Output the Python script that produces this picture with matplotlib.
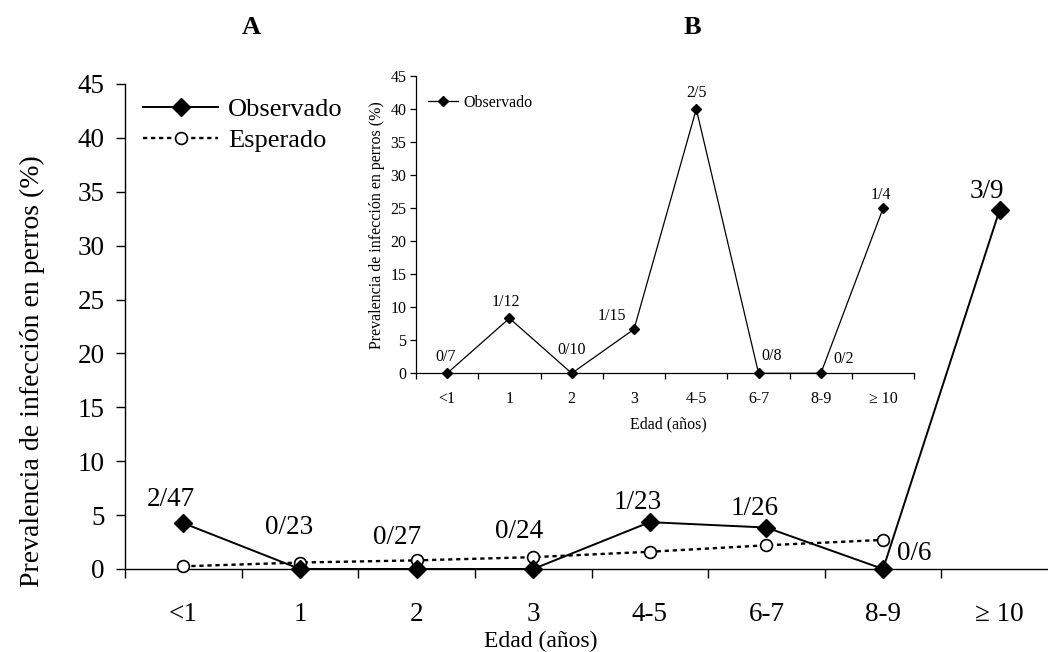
import matplotlib
matplotlib.use("Agg")
import matplotlib.pyplot as plt
from matplotlib.lines import Line2D

plt.rcParams['font.family'] = ['Liberation Serif', 'DejaVu Serif']

# ---- data ----
categories = ['<1', '1', '2', '3', '4-5', '6-7', '8-9', '\u2265 10']

# panel A: positives / examined per age group, and expected prevalence (%)
main_pos = [2, 0, 0, 0, 1, 1, 0, 3]
main_n = [47, 23, 27, 24, 23, 26, 6, 9]
expected = [0.25, 0.6, 0.8, 1.1, 1.6, 2.2, 2.7]

# panel B: positives / examined per age group
inset_pos = [0, 1, 0, 1, 2, 0, 0, 1]
inset_n = [7, 12, 10, 15, 5, 8, 2, 4]

main_obs = [100.0 * p / n for p, n in zip(main_pos, main_n)]
inset_obs = [100.0 * p / n for p, n in zip(inset_pos, inset_n)]

# label offsets (pixels, x right / y up) for the fraction annotations
main_offsets = [(-13, 24), (-11, 41), (-20, 31), (-14, 37),
                (-12, 20), (-12, 19), (31, 16), (-13, 18)]
inset_offsets = [(-2, 16), (-4, 16), (0, 23), (-22, 13),
                 (0, 16), (13, 17), (23, 14), (-2, 13)]

W, H = 1048, 652
fig = plt.figure(figsize=(W / 100, H / 100), dpi=100)


def px_axes(x0, y0, x1, y1):
    """Axes rectangle from pixel corners (top-left origin)."""
    return [x0 / W, 1 - y1 / H, (x1 - x0) / W, (y1 - y0) / H]


def style_axes(a, n, tick_len, ylab_size, xlab_size, tick_w=1.0):
    a.set_xlim(-0.5, n - 0.5)
    a.set_ylim(0, 45)
    a.set_yticks(range(0, 46, 5))
    a.set_xticks(range(n))
    a.set_xticks([i - 0.5 for i in range(n + 1)], minor=True)
    a.set_xticklabels(categories)
    a.tick_params(axis='x', which='major', length=0, labelsize=xlab_size)
    a.tick_params(axis='x', which='minor', length=tick_len, width=tick_w,
                  direction='out')
    a.tick_params(axis='y', length=tick_len, width=tick_w, direction='out',
                  labelsize=ylab_size)
    for s in ('top', 'right'):
        a.spines[s].set_visible(False)
    for s in ('left', 'bottom'):
        a.spines[s].set_linewidth(tick_w)
    a.patch.set_alpha(0)


# ---- panel A (main chart) ----
ax = fig.add_axes(px_axes(125, 84, 1058, 569))
style_axes(ax, len(categories), 6.5, 19.5, 19.5)
ax.tick_params(axis='x', which='major', pad=24)
ax.tick_params(axis='y', pad=8)

x_all = list(range(len(categories)))
exp_style = dict(color='black', lw=1.7, linestyle=(0, (1.8, 1.6)),
                 marker='o', ms=8.5, mfc='white', mec='black', mew=1.2)
obs_style = dict(color='black', lw=1.4, marker='D', ms=9, mfc='black',
                 mec='black')
ax.plot(range(len(expected)), expected, zorder=3, clip_on=False, **exp_style)
ax.plot(x_all, main_obs, zorder=4, clip_on=False, **obs_style)

for i, (p, n) in enumerate(zip(main_pos, main_n)):
    ax.annotate(f'{p}/{n}', xy=(i, main_obs[i]), xytext=main_offsets[i],
                textcoords='offset pixels', ha='center', va='center',
                fontsize=19.5, zorder=5)

leg_handles = [Line2D([], [], **obs_style), Line2D([], [], **exp_style)]
ax.legend(leg_handles, ['Observado', 'Esperado'], loc='upper left',
          bbox_to_anchor=(143 / W, 1 - 98 / H), bbox_transform=fig.transFigure,
          frameon=False, fontsize=19, borderpad=0, borderaxespad=0,
          handlelength=2.85, handletextpad=0.38, labelspacing=0.28)

fig.text(32 / W, 1 - 371 / H, 'Prevalencia de infección en perros (%)',
         rotation=90, ha='center', va='center', fontsize=20)
fig.text(541 / W, 1 - 641 / H, 'Edad (años)', ha='center', va='center',
         fontsize=17)

# ---- panel B (inset) ----
axi = fig.add_axes(px_axes(416, 76, 914.3, 373.3))
style_axes(axi, len(categories), 4.5, 11.5, 11.5, tick_w=0.9)
axi.tick_params(axis='x', which='major', pad=13)
axi.tick_params(axis='y', pad=2.5)
inset_style = dict(color='black', lw=0.9, marker='D', ms=4.8, mfc='black',
                   mec='black')
axi.plot(x_all, inset_obs, zorder=4, clip_on=False, **inset_style)
for i, (p, n) in enumerate(zip(inset_pos, inset_n)):
    axi.annotate(f'{p}/{n}', xy=(i, inset_obs[i]), xytext=inset_offsets[i],
                 textcoords='offset pixels', ha='center', va='center',
                 fontsize=11.5, zorder=5)
axi.legend([Line2D([], [], **inset_style)], ['Observado'], loc='upper left',
           bbox_to_anchor=(428 / W, 1 - 95 / H), bbox_transform=fig.transFigure,
           frameon=False, fontsize=11.5, borderpad=0, borderaxespad=0,
           handlelength=1.9, handletextpad=0.31)
axi.set_ylabel('Prevalencia de infección en perros (%)', fontsize=11.5,
               labelpad=4)
fig.text(668 / W, 1 - 424 / H, 'Edad (años)', ha='center', va='center',
         fontsize=11.5)

# panel letters
fig.text(251 / W, 1 - 28 / H, 'A', ha='center', va='center', fontsize=19,
         fontweight='bold')
fig.text(692 / W, 1 - 28 / H, 'B', ha='center', va='center', fontsize=19,
         fontweight='bold')

fig.savefig('out.png', dpi=100)
